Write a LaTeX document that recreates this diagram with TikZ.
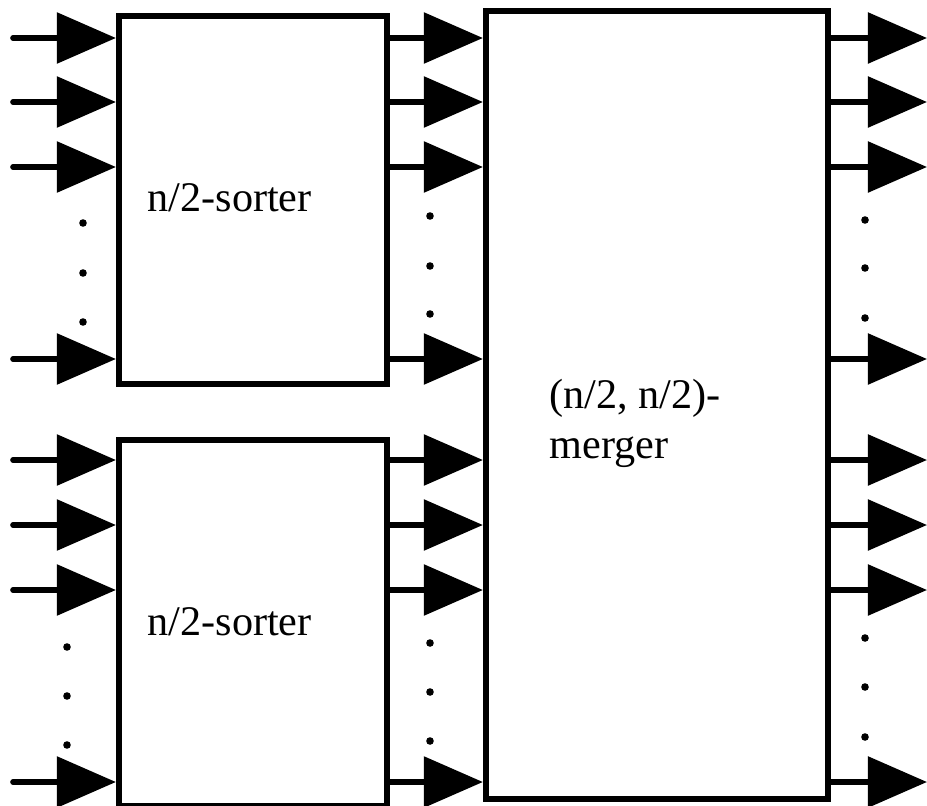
\documentclass[tikz,border=0pt]{standalone}
\usepackage{fontspec}
\setmainfont{Liberation Serif}
\usetikzlibrary{arrows.meta,positioning}
\tikzset{
  sbox/.style={draw=black, line width=1.7pt, minimum width=2.68cm, minimum height=3.68cm, inner sep=0pt},
  sarrow/.style={-{Triangle[length=5.9mm, width=5mm]}, line width=1.6pt, line cap=round},
  slabel/.style={font=\fontsize{12}{14.2}\selectfont, align=left, inner sep=0pt},
}

\begin{document}
\begin{tikzpicture}[x=0.01cm, y=-0.01cm]
  \useasboundingbox (0,0) rectangle (927,806);
  % sorters
  \node[sbox] (topsort) at (253,200) {};
  \node[sbox, below=0.5cm of topsort, minimum height=3.66cm] (botsort) {};
  % merger
  \node[sbox, minimum width=3.42cm, minimum height=7.87cm] (merger) at (657,405) {};
  % labels
  \node[slabel, anchor=west] (toplab) at (147,198) {n/2-sorter};
  \node[slabel, anchor=west] (botlab) at (147,622) {n/2-sorter};
  \node[slabel, anchor=west] (mlab) at (549,423) {(n/2, n/2)-\\merger};
  % wire ends
  \foreach \y [count=\i] in {38,102,167,359,460,525,590,782} {
    \coordinate (in\i) at (13,\y);
    \coordinate (out\i) at (927,\y);
  }
  % inputs and sorter outputs
  \foreach \i in {1,...,4} {
    \draw[sarrow] (in\i) -- (in\i -| topsort.west);
    \draw[sarrow] (in\i -| topsort.east) -- (in\i -| merger.west);
  }
  \foreach \i in {5,...,8} {
    \draw[sarrow] (in\i) -- (in\i -| botsort.west);
    \draw[sarrow] (in\i -| botsort.east) -- (in\i -| merger.west);
  }
  % merger outputs
  \foreach \i in {1,...,8}
    \draw[sarrow] (in\i -| merger.east) -- (out\i);
  % dots
  \foreach \x/\y in {83/223, 83/273, 83/322, 67/647, 67/696, 67/745,
                     430/216, 430/266, 430/314, 430/643, 430/692, 430/741,
                     865/220, 865/268, 865/318, 865/638, 865/687, 865/737}
    \fill (\x,\y) circle[radius=0.38mm];
\end{tikzpicture}
\end{document}
